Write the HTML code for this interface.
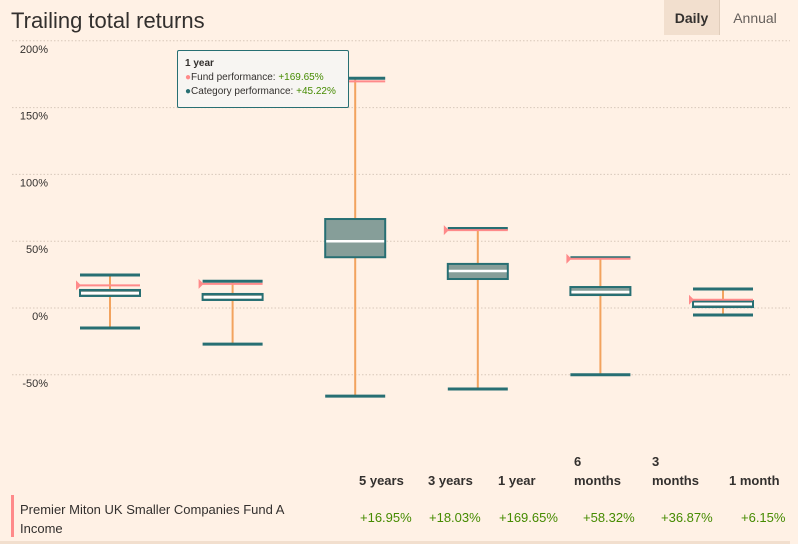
<!DOCTYPE html>
<html><head><meta charset="utf-8"><style>
body{margin:0;width:798px;height:544px;background:#fff1e5;font-family:"Liberation Sans",sans-serif;overflow:hidden;position:relative;color:#33302e}
.t{position:absolute}
</style></head><body>
<div class="t" style="left:11px;top:8px;font-size:22px;color:#33302e">Trailing total returns</div>
<div class="t" style="left:664px;top:0;width:55px;height:35px;background:#f2dfce;border-right:1px solid #e0cdbb;font-size:14px;font-weight:bold;line-height:36px;text-align:center">Daily</div>
<div class="t" style="left:720px;top:0;width:70px;height:35px;font-size:14px;line-height:36px;text-align:center;color:#66605c">Annual</div>
<svg id="chart" width="798" height="440" style="position:absolute;left:0;top:0"></svg>
<div class="t" style="left:177px;top:50px;width:172px;height:58px;background:#f7f5f2;border:1px solid #276f73;border-radius:2px;font-size:10px;line-height:14px;padding:6px 0 0 7px;box-sizing:border-box">
<b>1 year</b><br><span style="color:#ff8a8a">●</span>Fund performance: <span style="color:#458b00">+169.65%</span><br><span style="color:#276f73">●</span>Category performance: <span style="color:#458b00">+45.22%</span></div>
<div id="tbl"></div>
<div class="t" style="left:11px;top:495px;width:3px;height:42px;background:#ff8a8a"></div>
<div class="t" style="left:20px;top:500px;font-size:13px;line-height:19px;width:300px">Premier Miton UK Smaller Companies Fund A<br>Income</div>
<div class="t" style="left:0;top:541px;width:790px;height:3px;background:#f2dfce"></div>
<script>
const categories=["5 years","3 years","1 year","6 months","3 months","1 month"];
const catHeaders=[["","5 years"],["","3 years"],["","1 year"],["6","months"],["3","months"],["","1 month"]];
const whiskerHigh=[24.7,20,172,59.5,37.6,14.2];
const q3=[13.5,10.5,66.6,33,15.7,5.2];
const median=[11,8,50,27.7,12,3];
const q1=[9,6,38,21.7,9.7,0.7];
const whiskerLow=[-15,-27,-66,-60.6,-50,-5.2];
const fund=[16.95,18.03,169.65,58.32,36.87,6.15];
const fundLabels=["+16.95%","+18.03%","+169.65%","+58.32%","+36.87%","+6.15%"];
const ticks=[200,150,100,50,0,-50];
const ns="http://www.w3.org/2000/svg";
const svg=document.getElementById('chart');
const y=v=>308-v*1.336;
const x=i=>110+i*122.6;
function mk(tag,a){const e=document.createElementNS(ns,tag);for(const k in a)e.setAttribute(k,a[k]);svg.appendChild(e);return e;}
ticks.forEach(t=>{
 const l=mk('line',{x1:12,x2:790,y1:y(t),y2:y(t),stroke:'#d8c8ba','stroke-dasharray':'1.5 2'});
 
 
 const tx=mk('text',{x:48,y:y(t)+12,'text-anchor':'end','font-size':11,fill:'#33302e'});
 tx.textContent=t+'%';
 
 
});
categories.forEach((c,i)=>{
 const cx=x(i),hw=30;
 const w=mk('line',{x1:cx,x2:cx,y1:y(whiskerHigh[i]),y2:y(whiskerLow[i]),stroke:'#f2a35e','stroke-width':2});
 
 
 [whiskerHigh[i],whiskerLow[i]].forEach(v=>{
  const cap=mk('line',{x1:cx-hw,x2:cx+hw,y1:y(v),y2:y(v),stroke:'#276f73','stroke-width':3});
  
  
 });
 const b=mk('rect',{x:cx-hw,y:y(q3[i]),width:hw*2,height:y(q1[i])-y(q3[i]),fill:'#869e99',stroke:'#276f73','stroke-width':2});
 
 
 const m=mk('line',{x1:cx-hw+1,x2:cx+hw-1,y1:y(median[i]),y2:y(median[i]),stroke:'#fff','stroke-width':2.5});
 
 
 const f=mk('line',{x1:cx-hw,x2:cx+hw,y1:y(fund[i]),y2:y(fund[i]),stroke:'#ff8a8a','stroke-width':2});
 
 
 const fy=y(fund[i]);
 const tri=mk('polygon',{points:`${cx-hw-4},${fy-5} ${cx-hw-4},${fy+5} ${cx-hw+1},${fy}`,fill:'#ff8a8a'});
 
 
});
const tbl=document.getElementById('tbl');
const colX=[359,428,498,574,652,729];
catHeaders.forEach((h,i)=>{
 const d=document.createElement('div');
 d.className='t';
 
 
 d.style.cssText=`left:${colX[i]}px;top:452px;font-size:13px;font-weight:bold;line-height:19px`;
 d.innerHTML=(h[0]||'&nbsp;')+'<br>'+h[1];
 tbl.appendChild(d);
 const v=document.createElement('div');
 v.className='t';
 
 
 v.style.cssText=`left:${colX[i]+1+(i==3?8:i==4?8:i==5?11:0)}px;top:510px;font-size:13px;color:#458b00`;
 v.textContent=fundLabels[i];
 tbl.appendChild(v);
});
</script>
</body></html>
